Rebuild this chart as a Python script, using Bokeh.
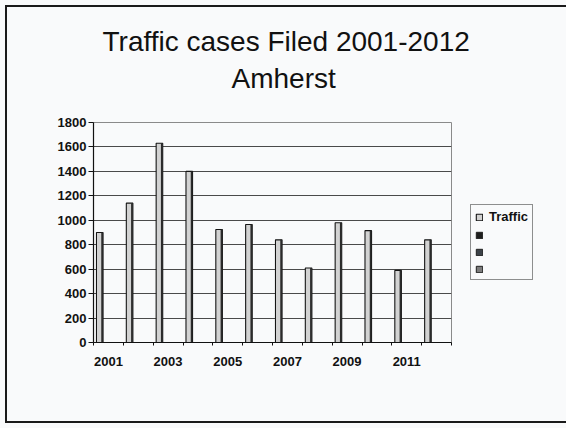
from bokeh.plotting import figure
from bokeh.models import (ColumnDataSource, Range1d, FixedTicker, Title, Legend,
                          LegendItem)
from bokeh.transform import dodge
from bokeh.embed import file_html
from bokeh.resources import INLINE

# ---- data ----
years = ["2001", "2002", "2003", "2004", "2005", "2006",
         "2007", "2008", "2009", "2010", "2011", "2012"]
traffic = [900, 1140, 1630, 1400, 925, 965, 840, 610, 980, 915, 590, 840]
tick_labels = ["2001", "2003", "2005", "2007", "2009", "2011"]
y_ticks = [0, 200, 400, 600, 800, 1000, 1200, 1400, 1600, 1800]
series_names = ["Traffic", " ", " ", " "]
series_colors = ["#d2d2d2", "#1e1e1e", "#3c4248", "#7c7c7c"]
title_line1 = "Traffic cases Filed 2001-2012"
title_line2 = "Amherst"

FONT = "Liberation Sans"
BG = "#f9fafb"

idx = list(range(len(years)))
source = ColumnDataSource(dict(idx=idx, year=years, traffic=traffic))

p = figure(frame_width=358, frame_height=220, output_backend="svg", toolbar_location=None,
           x_range=Range1d(0, len(years)), y_range=Range1d(0, 1800),
           min_border_left=93, min_border_right=115, min_border_top=122,
           min_border_bottom=86)
# slide frame drawn behind a transparent border area
p.styles = {"background-color": BG,
            "box-shadow": f"inset 0 0 0 5px {BG}, inset 0 0 0 7px #1a1a1a"}

p.background_fill_color = BG
p.border_fill_color = None
p.outline_line_color = "#8a8a8a"
p.outline_line_width = 1

# titles
p.title.text = title_line1
p.title.align = "left"
p.title.offset = 9
p.title.standoff = -50
p.title.text_font = FONT
p.title.text_font_size = "28px"
p.title.text_font_style = "normal"
p.title.text_color = "#111111"
t2 = Title(text=title_line2, align="left", offset=138, standoff=58, text_font=FONT,
           text_font_size="28px", text_font_style="normal", text_color="#111111")
p.add_layout(t2, "above")

# bars (light face plus dark side edge)
bars = p.vbar(x=dodge("idx", 0.21), top="traffic", width=0.22, source=source,
              fill_color=series_colors[0], line_color="#141414", line_width=1.1)
p.vbar(x=dodge("idx", 0.29), top="traffic", width=0.06, source=source,
       fill_color="#2a2a2a", line_color=None)

# renderers for the empty legend entries (no values)
nan = float("nan")
dummies = []
for c in series_colors[1:]:
    r = p.vbar(x=[nan], top=[nan], width=0.2, fill_color=c, line_color="#202020")
    dummies.append(r)

# axes
p.xaxis.ticker = FixedTicker(ticks=[i + 0.5 for i in range(0, len(years), 2)],
                             minor_ticks=list(range(0, len(years) + 1)))
p.xaxis.major_label_overrides = {i + 0.5: lab for i, lab in zip(range(0, len(years), 2), tick_labels)}
p.xaxis.minor_tick_out = 3
p.xaxis.minor_tick_in = 0
p.xaxis.minor_tick_line_color = "#111111"
p.xaxis.major_label_standoff = 8

p.yaxis.ticker = FixedTicker(ticks=y_ticks)
p.yaxis.minor_tick_line_color = None
p.yaxis.major_tick_out = 5
p.yaxis.major_tick_in = 0
p.yaxis.major_label_standoff = 2

for ax in (p.xaxis, p.yaxis):
    ax.axis_line_color = "#111111"
    ax.axis_line_width = 1.2
    ax.major_label_text_font = FONT
    ax.major_label_text_font_size = "13px"
    ax.major_label_text_font_style = "bold"
    ax.major_label_text_color = "#111111"
p.yaxis.major_tick_line_color = "#111111"
p.xaxis.major_tick_line_color = None

p.xgrid.grid_line_color = None
p.ygrid.ticker = FixedTicker(ticks=y_ticks)
p.ygrid.grid_line_color = "#4a4a4a"
p.ygrid.grid_line_width = 1

# legend (outside, right of the frame)
items = [LegendItem(label=series_names[0], renderers=[bars])]
for name, r in zip(series_names[1:], dummies):
    items.append(LegendItem(label=name, renderers=[r]))
legend = Legend(items=items, location=(19, 62))
legend.label_text_font = FONT
legend.label_text_font_size = "13px"
legend.label_text_font_style = "bold"
legend.label_text_color = "#111111"
legend.glyph_width = 8
legend.glyph_height = 8
legend.label_height = 12
legend.label_standoff = 6
legend.spacing = 5
legend.padding = 4
legend.margin = 0
legend.border_line_color = "#222222"
legend.border_line_width = 1
legend.background_fill_color = BG
p.add_layout(legend, "right")

open("out.html", "w").write(file_html(p, INLINE))
